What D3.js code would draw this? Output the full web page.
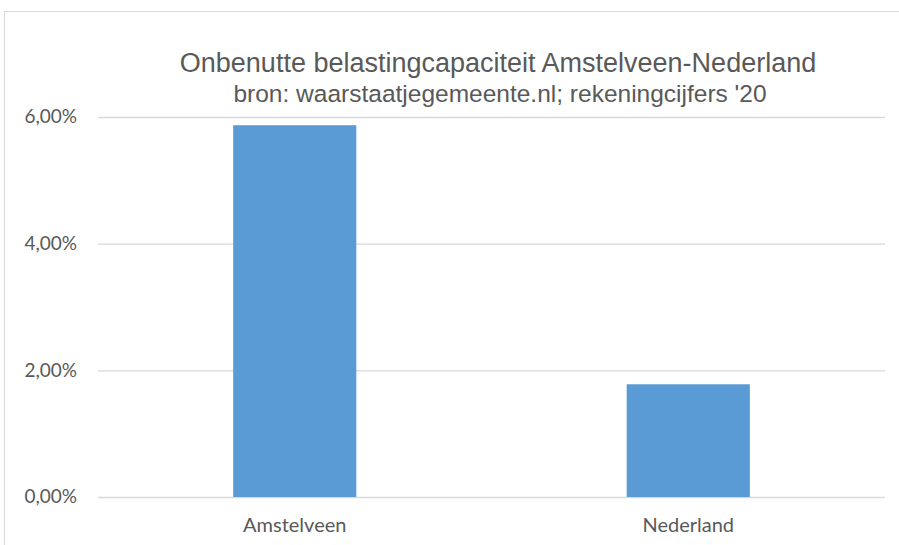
<!DOCTYPE html>
<html>
<head>
<meta charset="utf-8">
<script src="https://cdn.jsdelivr.net/npm/d3@7"></script>
<style>
  body { margin: 0; background: #fff; }
  svg { display: block; }
</style>
</head>
<body>
<div id="chart"></div>
<script>
const categories = ["Amstelveen", "Nederland"];
const values = [0.0587, 0.0178];
const yTicks = [0, 0.02, 0.04, 0.06];
const title = "Onbenutte belastingcapaciteit Amstelveen-Nederland";
const subtitle = "bron: waarstaatjegemeente.nl; rekeningcijfers '20";

const WIDTH = 899,
    HEIGHT = 545,
    LEFT = 98,
    RIGHT = 885,
    TOP = 117,
    BOTTOM = 497,
    BAR_RATIO = 0.313,
    COLOR_BAR = "#5b9bd5",
    COLOR_TEXT = "#595959",
    COLOR_GRID = "#d9d9d9",
    LABEL_FONT = "Lato, 'Open Sans', sans-serif";

const svg = d3.select("#chart")
    .append("svg")
    .attr("width", WIDTH)
    .attr("height", HEIGHT);

// chart border (runs off the right and bottom like the screenshot)
svg.append("rect")
    .attr("x", 4.5).attr("y", 11.5)
    .attr("width", WIDTH).attr("height", HEIGHT)
    .attr("fill", "none")
    .attr("stroke", COLOR_GRID);

const x = d3.scaleBand()
    .domain(categories)
    .range([LEFT, RIGHT])
    .padding(0);

const y = d3.scaleLinear()
    .domain([0, 0.06])
    .range([BOTTOM, TOP]);

const fmt = v => d3.format(".2f")(v * 100).replace(".", ",") + "%";

// gridlines
svg.append("g")
    .attr("transform", `translate(${LEFT},0)`)
    .call(d3.axisLeft(y).tickValues(yTicks).tickSize(-(RIGHT - LEFT)).tickFormat(""))
    .call(g => g.select(".domain").remove())
    .call(g => g.selectAll("line").attr("stroke", COLOR_GRID).attr("stroke-width", 1.3));

// y labels
svg.append("g")
    .attr("transform", `translate(${LEFT - 21},0)`)
    .call(d3.axisLeft(y).tickValues(yTicks).tickSize(0).tickPadding(0).tickFormat(fmt))
    .call(g => g.select(".domain").remove())
    .call(g => g.selectAll("text")
        .attr("fill", COLOR_TEXT)
        .attr("font-family", LABEL_FONT)
        .attr("font-size", 19)
        .attr("dy", "0.3em"));

// bars
const bw = x.bandwidth() * BAR_RATIO;
svg.append("g")
    .selectAll("rect")
    .data(values)
    .join("rect")
    .attr("x", (d, i) => x(categories[i]) + (x.bandwidth() - bw) / 2)
    .attr("y", d => y(d))
    .attr("width", bw)
    .attr("height", d => y(0) - y(d))
    .attr("fill", COLOR_BAR);

// x labels
svg.append("g")
    .attr("transform", `translate(0,${BOTTOM})`)
    .call(d3.axisBottom(x).tickSize(0).tickPadding(21))
    .call(g => g.select(".domain").remove())
    .call(g => g.selectAll("text")
        .attr("fill", COLOR_TEXT)
        .attr("font-family", LABEL_FONT)
        .attr("font-size", 20));

// title
svg.append("text")
    .attr("x", 498)
    .attr("y", 72)
    .attr("text-anchor", "middle")
    .attr("fill", COLOR_TEXT)
    .attr("font-family", "'Liberation Sans', Arial, sans-serif")
    .attr("font-size", 27)
    .text(title);

svg.append("text")
    .attr("x", 500)
    .attr("y", 101.5)
    .attr("text-anchor", "middle")
    .attr("fill", COLOR_TEXT)
    .attr("font-family", "'Liberation Sans', Arial, sans-serif")
    .attr("font-size", 24.5)
    .text(subtitle);
</script>
</body>
</html>
